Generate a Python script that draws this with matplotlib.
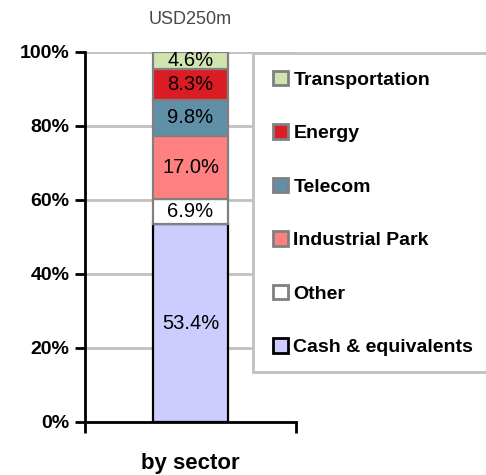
#!/usr/bin/env python3
"""plot.py — stacked 100% bar of the portfolio by sector."""

import matplotlib
matplotlib.use("Agg")
import matplotlib.pyplot as plt
from matplotlib.patches import Patch, Rectangle

# ─── Data (bottom to top) ────────────────────────────────────────────────────

categories = ["by sector"]
sectors = ["Cash & equivalents", "Other", "Industrial Park",
           "Telecom", "Energy", "Transportation"]
shares = [53.4, 6.9, 17.0, 9.8, 8.3, 4.6]
share_labels = ["53.4%", "6.9%", "17.0%", "9.8%", "8.3%", "4.6%"]
total_label = "USD250m"
y_ticks = [0, 20, 40, 60, 80, 100]
y_tick_labels = ["0%", "20%", "40%", "60%", "80%", "100%"]

colors = ["#CCCCFF", "#FFFFFF", "#FF8080", "#6090A8", "#DC1C24", "#D0E4B0"]
edges = ["#000000", "#808080", "#808080", "#808080", "#808080", "#808080"]


def main():
    plt.rcParams["font.family"] = ["Liberation Sans", "DejaVu Sans"]
    W, H = 486, 475
    fig = plt.figure(figsize=(W / 100, H / 100), dpi=100)
    ax = fig.add_axes([85 / W, 1 - 422 / H, 211 / W, 370 / H])

    bottom = 0.0
    for val, lab, col, ec in zip(shares, share_labels, colors, edges):
        ax.bar(0, val, bottom=bottom, width=0.36, color=col, edgecolor=ec,
               linewidth=1.6, zorder=3)
        ax.text(0, bottom + val / 2, lab, ha="center", va="center",
                fontsize=14.5, color="black", zorder=4)
        bottom += val

    ax.set_xlim(-0.5, 0.5)
    ax.set_ylim(0, 100)
    ax.set_yticks(y_ticks)
    ax.set_yticklabels(y_tick_labels, fontsize=14, fontweight="bold")
    ax.set_xticks([-0.5, 0.5])
    ax.set_xticklabels(["", ""])
    ax.tick_params(axis="y", direction="out", length=7, width=2, pad=4)
    ax.tick_params(axis="x", direction="out", length=8, width=2)
    ax.grid(axis="y", color="#C0C0C0", linewidth=2, zorder=0)
    ax.set_axisbelow(True)
    for s in ("top", "right"):
        ax.spines[s].set_visible(False)
    for s in ("left", "bottom"):
        ax.spines[s].set_linewidth(2)
        ax.spines[s].set_zorder(5)

    ax.set_title(total_label, fontsize=13, color="#484848", pad=20)
    fig.text(190 / W, 1 - 463 / H, categories[0], ha="center", va="center",
             fontsize=16, fontweight="bold")

    # legend box, running off the right edge
    box = Rectangle((253 / W, 1 - 372 / H), 300 / W, 319 / H,
                    transform=fig.transFigure, facecolor="white",
                    edgecolor="#C0C0C0", linewidth=2, zorder=2)
    fig.patches.append(box)

    handles = [Patch(facecolor=c, edgecolor=e, linewidth=2)
               for c, e in zip(colors, edges)][::-1]
    leg = fig.legend(handles, sectors[::-1], loc="upper left",
                     bbox_to_anchor=(273 / W, 1 - 71 / H), frameon=False,
                     prop={"weight": "bold", "size": 14},
                     handlelength=0.75, handleheight=0.75,
                     handletextpad=0.3, labelspacing=1.83, borderpad=0,
                     borderaxespad=0)
    leg.set_zorder(6)

    fig.savefig("out.png", dpi=100)
    plt.close(fig)


if __name__ == "__main__":
    main()
